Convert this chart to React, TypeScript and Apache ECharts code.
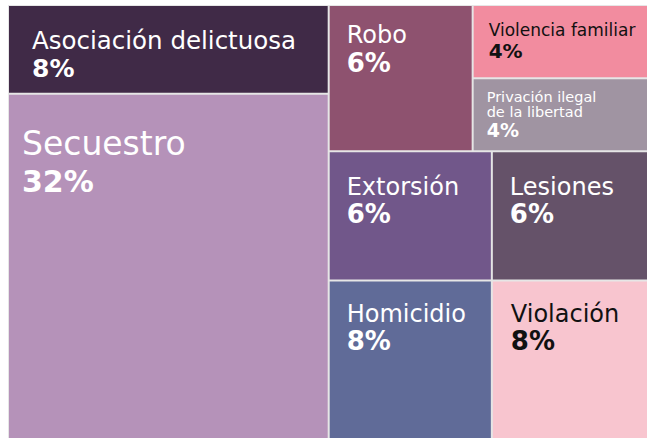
import React, { useEffect, useRef } from 'react';
import * as echarts from 'echarts';

// Values (percent of cases; labels show the rounded value)
const leftNames = ['Asociación delictuosa', 'Secuestro'];
const leftValues = [8.1, 32.0];
const topRowNames = ['Robo', 'Violencia familiar', 'Privación ilegal de la libertad'];
const topRowValues = [6.0, 3.8, 3.8];
const midRowNames = ['Extorsión', 'Lesiones'];
const midRowValues = [6.0, 6.0];
const bottomRowNames = ['Homicidio', 'Violación'];
const bottomRowValues = [7.6, 7.6];

const FONT = "'DejaVu Sans', sans-serif";
const BORDER = '#e6e6e6';

type LS = {
  color: string;
  text: string;
  nf: number;
  nlh: number;
  pf: number;
  plh: number;
  pad: [number, number];
  lines?: string;
};

const styles: Record<string, LS> = {
  'Asociación delictuosa': { color: '#402a47', text: '#ffffff', nf: 24.5, nlh: 28, pf: 25, plh: 28, pad: [20, 23] },
  'Secuestro': { color: '#b592b9', text: '#ffffff', nf: 33, nlh: 38, pf: 30, plh: 38, pad: [30, 13] },
  'Robo': { color: '#8e526f', text: '#ffffff', nf: 24, nlh: 28, pf: 26, plh: 28, pad: [15, 17] },
  'Violencia familiar': { color: '#f28c9f', text: '#111111', nf: 17, nlh: 21, pf: 20, plh: 20, pad: [13.5, 15] },
  'Privación ilegal de la libertad': {
    color: '#a094a2', text: '#ffffff', nf: 14.5, nlh: 15.6, pf: 19, plh: 20, pad: [9.6, 13],
    lines: 'Privación ilegal\nde la libertad',
  },
  'Extorsión': { color: '#71578a', text: '#ffffff', nf: 24, nlh: 27, pf: 26, plh: 27, pad: [21, 17] },
  'Lesiones': { color: '#655269', text: '#ffffff', nf: 24, nlh: 27, pf: 26, plh: 27, pad: [21, 17] },
  'Homicidio': { color: '#606b98', text: '#ffffff', nf: 24, nlh: 27, pf: 26, plh: 27, pad: [19, 17] },
  'Violación': { color: '#f8c5cf', text: '#111111', nf: 24, nlh: 27, pf: 26, plh: 27, pad: [19, 18] },
};

const allNames = [...leftNames, ...topRowNames, ...midRowNames, ...bottomRowNames];

function leaf(name: string, value: number) {
  const s = styles[name];
  return {
    name,
    value,
    itemStyle: { color: s.color, borderWidth: 1, borderColor: BORDER },
    label: { padding: [s.pad[0], 0, 0, s.pad[1]] },
  };
}

export default function App() {
  const ref = useRef<HTMLDivElement>(null);

  useEffect(() => {
    if (!ref.current) return;
    const chart = echarts.init(ref.current, undefined, { renderer: 'svg' });

    const rich: Record<string, any> = {};
    allNames.forEach((n, i) => {
      const s = styles[n];
      rich['n' + i] = { fontFamily: FONT, fontSize: s.nf, lineHeight: s.nlh, color: s.text, fontWeight: 'normal' };
      rich['p' + i] = { fontFamily: FONT, fontSize: s.pf, lineHeight: s.plh, color: s.text, fontWeight: 'bold' };
    });

    const data = [
      { name: 'grupo izquierdo', children: leftNames.map((n, i) => leaf(n, leftValues[i])) },
      {
        name: 'grupo derecho',
        children: [
          {
            name: 'filas superiores',
            children: [
              {
                name: 'fila superior',
                children: [
                  leaf(topRowNames[0], topRowValues[0]),
                  {
                    name: 'columna derecha',
                    children: [leaf(topRowNames[1], topRowValues[1]), leaf(topRowNames[2], topRowValues[2])],
                  },
                ],
              },
              { name: 'fila media', children: midRowNames.map((n, i) => leaf(n, midRowValues[i])) },
            ],
          },
          { name: 'fila inferior', children: bottomRowNames.map((n, i) => leaf(n, bottomRowValues[i])) },
        ],
      },
    ];

    chart.setOption({
      animation: false,
      tooltip: { show: false },
      series: [
        {
          type: 'treemap',
          left: 8,
          top: 5,
          width: 647,
          height: 439,
          squareRatio: 1.31,
          sort: false,
          roam: false,
          nodeClick: false,
          breadcrumb: { show: false },
          itemStyle: { borderWidth: 0, gapWidth: 0, borderColor: BORDER },
          upperLabel: { show: false },
          emphasis: { disabled: true },
          label: {
            show: true,
            position: 'insideTopLeft',
            distance: 0,
            overflow: 'none',
            formatter: (p: any) => {
              const i = allNames.indexOf(p.name);
              if (i < 0) return '';
              const s = styles[p.name];
              const txt = s.lines || p.name;
              return `{n${i}|${txt}}\n{p${i}|${Math.round(p.value)}%}`;
            },
            rich,
          },
          data,
        },
      ],
    });

    return () => chart.dispose();
  }, []);

  return (
    <div
      ref={ref}
      style={{ position: 'absolute', left: 0, top: 0, width: 647, height: 438, background: '#ffffff' }}
    />
  );
}
